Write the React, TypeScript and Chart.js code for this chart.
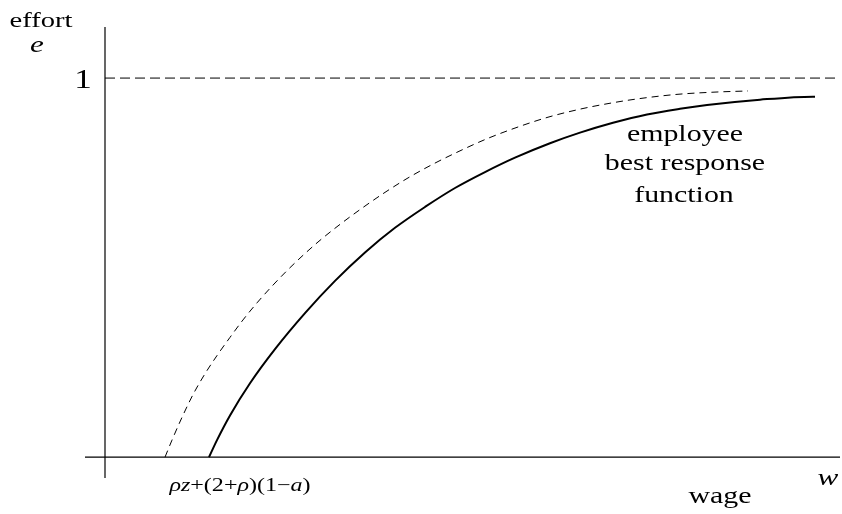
import React, { useEffect, useRef } from "react";
import { Chart, registerables } from "chart.js";

Chart.register(...registerables);

// Wage range and effort range shown on the axes
const wageMin = -0.2;
const wageMax = 7.35;
const effortMin = -0.055;
const effortMax = 1.14;

// Employee best response function: effort as a function of wage
const bestResponseWage = [1.04, 1.12, 1.25, 1.45, 1.7, 2.0, 2.3, 2.6, 2.9, 3.2, 3.5, 3.8, 4.1, 4.45, 4.75, 5.08, 5.42, 5.75, 6.02, 6.55, 7.08, 7.1];
const bestResponseEffort = [0, 0.045, 0.11, 0.195, 0.285, 0.38, 0.465, 0.54, 0.605, 0.66, 0.71, 0.752, 0.79, 0.828, 0.856, 0.882, 0.904, 0.919, 0.929, 0.943, 0.951, 0.951];

// Shifted best response (dashed)
const shiftedWage = [0.6, 0.67, 0.77, 0.88, 1.0, 1.12, 1.25, 1.38, 1.52, 1.67, 1.82, 1.97, 2.15, 2.35, 2.55, 2.78, 3.02, 3.28, 3.55, 3.82, 4.12, 4.42, 4.75, 5.08, 5.35, 5.72, 6.1, 6.43];
const shiftedEffort = [0, 0.045, 0.105, 0.165, 0.22, 0.268, 0.316, 0.362, 0.407, 0.451, 0.492, 0.53, 0.572, 0.614, 0.653, 0.695, 0.735, 0.773, 0.808, 0.84, 0.87, 0.896, 0.918, 0.935, 0.946, 0.957, 0.963, 0.966];

// Upper bound on effort
const effortCeiling = 1;

const SERIF = "'Liberation Serif', 'Times New Roman', serif";
const STRETCH = 1.3;

type Run = { text: string; italic?: boolean };

function drawRuns(
  ctx: CanvasRenderingContext2D,
  runs: Run[],
  cx: number,
  baseline: number,
  size: number
) {
  const fontFor = (r: Run) => `${r.italic ? "italic " : ""}${size}px ${SERIF}`;
  let total = 0;
  const widths = runs.map((r) => {
    ctx.font = fontFor(r);
    const w = ctx.measureText(r.text).width;
    total += w;
    return w;
  });
  ctx.save();
  ctx.translate(cx, baseline);
  ctx.scale(STRETCH, 1);
  ctx.fillStyle = "#000";
  ctx.textBaseline = "alphabetic";
  ctx.textAlign = "left";
  let x = -total / 2;
  runs.forEach((r, i) => {
    ctx.font = fontFor(r);
    ctx.fillText(r.text, x, 0);
    x += widths[i];
  });
  ctx.restore();
}

const labelsPlugin = {
  id: "diagramLabels",
  afterDraw(chart: any) {
    const ctx = chart.ctx as CanvasRenderingContext2D;
    const xs = chart.scales.x;
    const ys = chart.scales.y;
    const x0 = xs.getPixelForValue(0);
    const y0 = ys.getPixelForValue(0);
    const y1 = ys.getPixelForValue(effortCeiling);

    drawRuns(ctx, [{ text: "effort" }], 41, 27, 22);
    drawRuns(ctx, [{ text: "e", italic: true }], 37, 52, 24);
    drawRuns(ctx, [{ text: "1" }], x0 - 22, y1 + 10, 27);

    drawRuns(ctx, [{ text: "employee" }], 685, 141, 23);
    drawRuns(ctx, [{ text: "best response" }], 685, 170, 23);
    drawRuns(ctx, [{ text: "function" }], 684, 202, 23);

    drawRuns(
      ctx,
      [
        { text: "ρz", italic: true },
        { text: "+(2+" },
        { text: "ρ", italic: true },
        { text: ")(1−" },
        { text: "a", italic: true },
        { text: ")" },
      ],
      240,
      y0 + 34,
      18.5
    );

    drawRuns(ctx, [{ text: "w", italic: true }], 828, y0 + 28, 24);
    drawRuns(ctx, [{ text: "wage" }], 720, y0 + 46, 23);
  },
};

export default function App() {
  const canvasRef = useRef<HTMLCanvasElement | null>(null);

  useEffect(() => {
    document.body.style.margin = "0";
    const canvas = canvasRef.current;
    if (!canvas) return;

    const toPoints = (xs: number[], ys: number[]) => xs.map((x, i) => ({ x, y: ys[i] }));

    const chart = new Chart(canvas, {
      type: "line",
      data: {
        datasets: [
          {
            label: "effort axis",
            data: [
              { x: 0, y: effortMin },
              { x: 0, y: effortMax - 0.005 },
            ],
            borderColor: "#000",
            borderWidth: 1.2,
            pointRadius: 0,
          },
          {
            label: "wage axis",
            data: [
              { x: wageMin, y: 0 },
              { x: wageMax, y: 0 },
            ],
            borderColor: "#000",
            borderWidth: 1.2,
            pointRadius: 0,
          },
          {
            label: "effort ceiling",
            data: [
              { x: 0, y: effortCeiling },
              { x: wageMax, y: effortCeiling },
            ],
            borderColor: "#000",
            borderWidth: 1,
            borderDash: [10, 5],
            pointRadius: 0,
          },
          {
            label: "shifted best response",
            data: toPoints(shiftedWage, shiftedEffort),
            borderColor: "#000",
            borderWidth: 1,
            borderDash: [7, 5],
            pointRadius: 0,
            cubicInterpolationMode: "monotone",
          },
          {
            label: "employee best response function",
            data: toPoints(bestResponseWage, bestResponseEffort),
            borderColor: "#000",
            borderWidth: 2,
            pointRadius: 0,
            cubicInterpolationMode: "monotone",
          },
        ],
      },
      options: {
        animation: false,
        responsive: false,
        devicePixelRatio: 1,
        layout: { padding: { left: 85, right: 2, top: 25, bottom: 36 } },
        scales: {
          x: { type: "linear", min: wageMin, max: wageMax, display: false },
          y: { type: "linear", min: effortMin, max: effortMax, display: false },
        },
        plugins: {
          legend: { display: false },
          tooltip: { enabled: false },
        },
        elements: { line: { capBezierPoints: false } },
      },
      plugins: [labelsPlugin],
    });

    return () => chart.destroy();
  }, []);

  return (
    <div style={{ position: "fixed", left: 0, top: 0, width: 842, height: 514, background: "#fff" }}>
      <canvas ref={canvasRef} width={842} height={514} />
    </div>
  );
}
